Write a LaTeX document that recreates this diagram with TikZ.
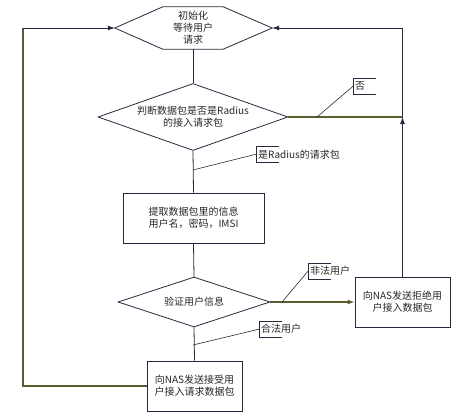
\documentclass[tikz,border=0pt]{standalone}
\usepackage{fontspec}
\newfontfamily\cjk{Noto Sans CJK SC}
\usetikzlibrary{arrows.meta,positioning,calc,shapes.geometric}

\definecolor{linecol}{RGB}{40,40,60}
\definecolor{olivecol}{RGB}{92,92,46}

\tikzset{
  base/.style={draw=linecol, line width=0.8pt, font=\cjk\fontsize{10}{12}\selectfont, align=center, text=black!85},
  proc/.style={base, rectangle, minimum height=50, inner sep=2pt},
  test/.style={base, diamond, inner sep=0pt},
  tag/.style={font=\cjk\fontsize{10}{12}\selectfont, text=black!85, inner sep=2pt, minimum height=16, anchor=north west},
  link/.style={draw=linecol, line width=0.8pt},
  back/.style={draw=olivecol, line width=1.6pt},
  tip/.style={-{Latex[length=7pt,width=5pt]}},
}

\begin{document}
\begin{tikzpicture}[x=1pt,y=-1pt]
    \useasboundingbox (0,0) rectangle (458,420);
    % ---- main column
    \node[font=\cjk\fontsize{10}{12}\selectfont, align=center, text=black!85, minimum width=60, minimum height=42, inner sep=0pt] (init) at (193,28) {初始化\\等待用户\\请求};
    \draw[link] (init.north west) -- (init.north east) -- ($(init.east)+(49,0)$) coordinate (initE)
      -- (init.south east) -- (init.south west) -- ($(init.west)+(-48,0)$) coordinate (initW) -- cycle;
    \node[test, aspect=2.84, minimum width=190, minimum height=67] (check) at (193,117) {判断数据包是否是Radius\\的接入请求包};
    \node[proc, minimum width=141] (fetch) at (193.5,218) {提取数据包里的信息\\用户名，密码，IMSI};
    \node[test, aspect=3.04, minimum width=152, minimum height=50] (verify) at (194,302) {验证用户信息};
    \node[proc, minimum width=95] (reject) at (402.5,302) {向NAS发送拒绝用\\户接入数据包};
    \node[proc, minimum width=95] (accept) at (194.5,386) {向NAS发送接受用\\户接入请求数据包};
    \foreach \u/\v in {init/check,check/fetch,fetch/verify,verify/accept} { \draw[link] (\u.south) -- (\v.north); }
    % ---- return paths
    \coordinate (join) at (reject.north |- check.east);
    \coordinate (loopL) at (23,28);
    \draw[back] (check.east) -- (join);
    \draw[back, tip] (verify.east) -- (reject.west);
    \draw[link, tip] (reject.north) -- (join);
    \draw[link, tip] (join) |- (initE);
    \draw[back] (accept.west) -| (loopL);
    \draw[link, tip] (loopL) -- (initW);
    % ---- labels
    \node[tag] (no) at (353,78) {否};
    \node[tag] (yes) at (256,146) {是Radius的请求包};
    \node[tag] (bad) at (308,263) {非法用户};
    \node[tag] (good) at (259,321) {合法用户};
    \foreach \t in {no,yes,bad,good} {
      \draw[link, line width=0.6pt] ($(\t.north west)+(23,0)$) -- (\t.north west) -- (\t.south west) -- ++(23,0);
    }
    \draw[link, line width=0.6pt] (317,117) -- (no.west);
    \draw[link, line width=0.6pt] (193,170) -- (yes.west);
    \draw[link, line width=0.6pt] (282,302) -- (bad.west);
    \draw[link, line width=0.6pt] (193,345) -- (good.west);
\end{tikzpicture}
\end{document}
